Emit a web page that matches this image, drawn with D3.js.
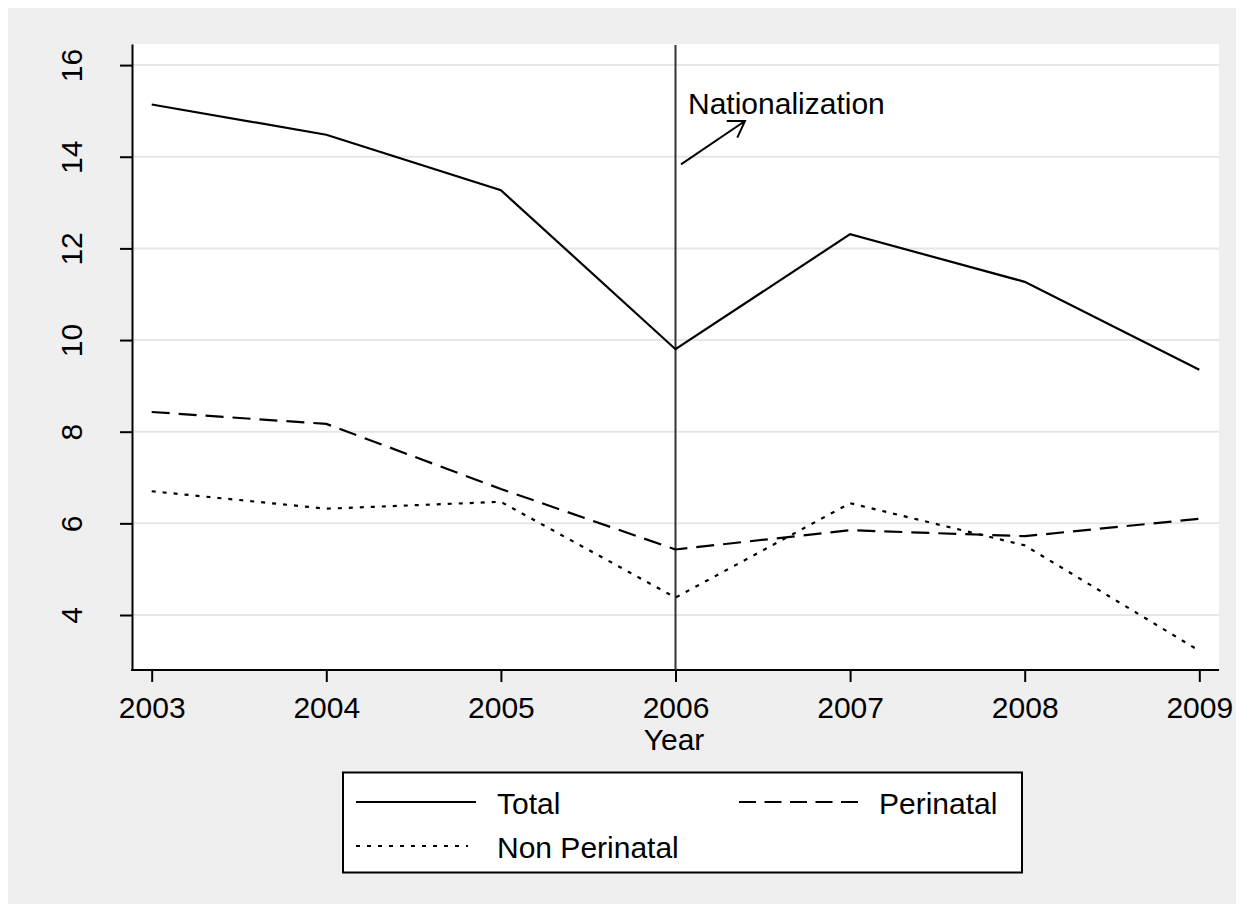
<!DOCTYPE html>
<html><head><meta charset="utf-8">
<script src="https://cdn.jsdelivr.net/npm/d3@7"></script>
<style>body{margin:0;background:#fff}svg{display:block}text{font-family:"Liberation Sans",Arial,sans-serif;fill:#000}</style>
</head><body><svg id="c" width="1244" height="912"></svg>
<script>
const years = [2003, 2004, 2005, 2006, 2007, 2008, 2009];
const total = [15.14, 14.48, 13.27, 9.80, 12.31, 11.27, 9.35];
const perinatal = [8.43, 8.17, 6.75, 5.43, 5.85, 5.72, 6.10];
const nonPerinatal = [6.70, 6.32, 6.47, 4.38, 6.44, 5.52, 3.22];
const yTicks = [4, 6, 8, 10, 12, 14, 16];
const seriesNames = ["Total", "Perinatal", "Non Perinatal"];
const eventYear = 2006;
const eventLabel = "Nationalization";
const xTitle = "Year";

const svg = d3.select("#c");
const L = 133, R = 1219, T = 44, B = 670;
svg.append("rect").attr("x", 8).attr("y", 8).attr("width", 1228).attr("height", 896).attr("fill", "#efefef");
svg.append("rect").attr("x", L).attr("y", T).attr("width", R - L).attr("height", B - T).attr("fill", "#fff");

const x = d3.scaleLinear().domain([2003, 2009]).range([151.7, 1199.3]);
const y = d3.scaleLinear().domain([2.80, 16.46]).range([B, T]);

// gridlines
svg.append("g").selectAll("line").data(yTicks).join("line")
  .attr("x1", L).attr("x2", R).attr("y1", d => y(d)).attr("y2", d => y(d))
  .attr("stroke", "#e6e6e6").attr("stroke-width", 2);

// axes
const yAxis = d3.axisLeft(y).tickValues(yTicks).tickSize(12).tickSizeOuter(0).tickFormat(d3.format("d"));
const gy = svg.append("g").attr("transform", `translate(${L - 1},0)`).call(yAxis);
gy.select(".domain").attr("stroke", "#000").attr("stroke-width", 2);
gy.selectAll(".tick line").attr("stroke", "#000").attr("stroke-width", 2);
gy.selectAll(".tick text").attr("font-size", 30).attr("fill", "#000")
  .attr("text-anchor", "middle").attr("x", null).attr("dy", null)
  .attr("transform", "translate(-50,0) rotate(-90)").attr("y", 0);

const xAxis = d3.axisBottom(x).tickValues(years).tickSize(12).tickSizeOuter(0).tickFormat(d3.format("d"));
const gx = svg.append("g").attr("transform", `translate(0,${B})`).call(xAxis);
gx.select(".domain").attr("d", `M${L - 2},0H${R}`).attr("stroke", "#000").attr("stroke-width", 2);
gx.selectAll(".tick line").attr("stroke", "#000").attr("stroke-width", 2);
gx.selectAll(".tick text").attr("font-size", 30).attr("fill", "#000").attr("dy", null).attr("y", 48);

svg.append("text").attr("x", (L + R) / 2 - 2).attr("y", 750).attr("text-anchor", "middle").attr("font-size", 30).text(xTitle);

// event line
svg.append("line").attr("x1", x(eventYear)).attr("x2", x(eventYear)).attr("y1", T + 1).attr("y2", B)
  .attr("stroke", "#333").attr("stroke-width", 2);

// series
const styles = [
  {data: total, dash: null},
  {data: perinatal, dash: "18,9"},
  {data: nonPerinatal, dash: "4,7"}
];
const line = d3.line().x((d, i) => x(years[i])).y(d => y(d));
styles.forEach(s => {
  svg.append("path").attr("d", line(s.data)).attr("fill", "none").attr("stroke", "#000")
    .attr("stroke-width", 2.2).attr("stroke-dasharray", s.dash);
});

// annotation
svg.append("text").attr("x", 688).attr("y", 114).attr("font-size", 30).text(eventLabel);
svg.append("path").attr("d", "M681,164.3L745,121M726.7,121L745,121L737.3,137.7")
  .attr("fill", "none").attr("stroke", "#000").attr("stroke-width", 2);

// legend
svg.append("rect").attr("x", 343).attr("y", 772.5).attr("width", 679).attr("height", 100)
  .attr("fill", "#fff").attr("stroke", "#000").attr("stroke-width", 2);
const leg = [
  {x1: 356, x2: 476, y: 802, tx: 497, ty: 814, dash: null, name: seriesNames[0]},
  {x1: 739, x2: 858, y: 802, tx: 879, ty: 814, dash: "17,8.5", name: seriesNames[1]},
  {x1: 356, x2: 468, y: 846, tx: 497, ty: 858, dash: "4,7", name: seriesNames[2]}
];
leg.forEach(l => {
  svg.append("line").attr("x1", l.x1).attr("x2", l.x2).attr("y1", l.y).attr("y2", l.y)
    .attr("stroke", "#000").attr("stroke-width", 2.2).attr("stroke-dasharray", l.dash);
  svg.append("text").attr("x", l.tx).attr("y", l.ty).attr("font-size", 30).text(l.name);
});
</script></body></html>
